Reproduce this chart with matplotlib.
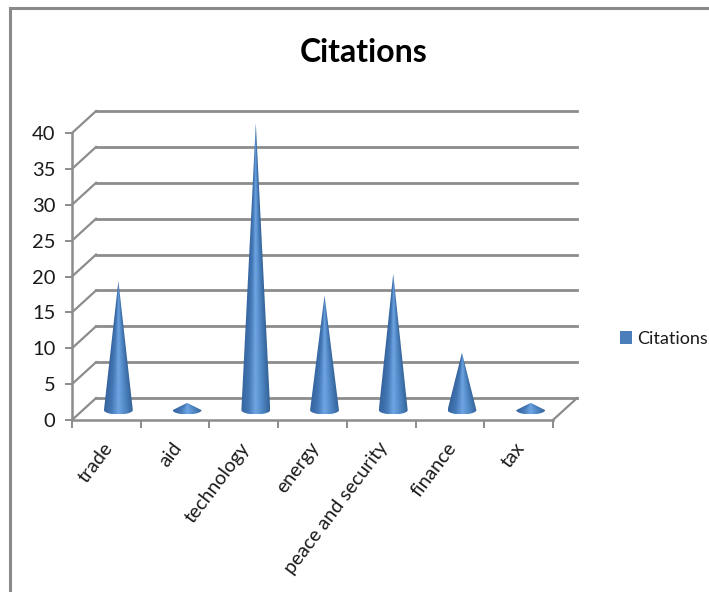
import matplotlib
matplotlib.use("Agg")
import matplotlib.pyplot as plt
import numpy as np
from matplotlib.colors import LinearSegmentedColormap
from matplotlib.lines import Line2D
from matplotlib.patches import Patch, Polygon
from matplotlib.transforms import ScaledTranslation

plt.rcParams["font.family"] = ["Lato", "DejaVu Sans"]

categories = ["trade", "aid", "technology", "energy", "peace and security", "finance", "tax"]
citations = [18, 1, 40, 16, 19, 8, 1]
y_ticks = [0, 5, 10, 15, 20, 25, 30, 35, 40]

W, H = 709, 592
GRID = "#8c8c8c"
DEPTH_X = 0.35  # fake 3d depth, in category units
DEPTH_Y = 3.06  # and in value units
CONE_W = 0.21
CONE_RY = 0.6

cone_cmap = LinearSegmentedColormap.from_list(
    "cone", ["#36659f", "#4377b5", "#6ea5e2", "#4f86c4", "#356499"]
)

fig = plt.figure(figsize=(W / 100, H / 100), dpi=100)
ax = fig.add_axes([72 / W, 1 - 420 / H, 481 / W, 287 / H])
ax.set_xlim(-0.5, 6.5)
ax.set_ylim(0, 40)
ax.patch.set_visible(False)

# outer frame, cut off by the crop on the right and bottom
fig.add_artist(Line2D([10 / W, 10 / W], [0, 1 - 8 / H], color="#8a8a8a", lw=2.2))
fig.add_artist(Line2D([10 / W, 1], [1 - 8 / H, 1 - 8 / H], color="#8a8a8a", lw=2.2))

# back wall gridlines and the side wall
x0, x1 = ax.get_xlim()
for t in y_ticks:
    ax.plot([x0 + DEPTH_X, x1 + DEPTH_X], [t + DEPTH_Y, t + DEPTH_Y], color=GRID, lw=2, clip_on=False, zorder=1)
    ax.plot([x0, x0 + DEPTH_X], [t, t + DEPTH_Y], color=GRID, lw=1.6, clip_on=False, zorder=1)
ax.plot([x1, x1 + DEPTH_X], [0, DEPTH_Y], color=GRID, lw=1.6, clip_on=False, zorder=1)

# cones: shading follows the cone, so rescale the gradient row by row
t_arc = np.linspace(np.pi, 2 * np.pi, 40)
for i, value in enumerate(citations):
    cx = i + DEPTH_X / 2
    base = DEPTH_Y / 2 - 0.15
    arc_x = cx + CONE_W * np.cos(t_arc)
    arc_y = base + CONE_RY * np.sin(t_arc)
    outline = np.vstack([[cx, base + value], np.column_stack([arc_x, arc_y])])
    poly = Polygon(outline, closed=True, transform=ax.transData, fc="none", ec="none")
    ax.add_patch(poly)

    ys = np.linspace(base + value, base - CONE_RY, 300)
    xs = np.linspace(-CONE_W, CONE_W, 80)
    half = np.clip((base + value - ys) / value, 0.02, 1) * CONE_W
    shade = np.clip(xs[None, :] / half[:, None] * 0.5 + 0.5, 0, 1)
    im = ax.imshow(
        shade,
        cmap=cone_cmap,
        extent=[cx - CONE_W, cx + CONE_W, base - CONE_RY, base + value],
        aspect="auto",
        zorder=3,
        interpolation="bilinear",
    )
    im.set_clip_path(poly)
    im.set_clip_box(fig.bbox)

ax.set_xlim(x0, x1)
ax.set_ylim(0, 40)

for side in ["top", "right"]:
    ax.spines[side].set_visible(False)
for side in ["left", "bottom"]:
    ax.spines[side].set_color(GRID)
    ax.spines[side].set_linewidth(1.8)

ax.set_yticks(y_ticks)
ax.set_xticks(np.arange(-0.5, 7.5), minor=False)
ax.set_xticklabels([])
ax.set_xticks(np.arange(len(categories)), labels=categories, minor=True)
ax.tick_params(axis="y", length=5, width=1.4, color=GRID, labelsize=14.5, pad=7, labelcolor="#1a1a1a")
ax.tick_params(axis="x", which="major", length=6, width=1.4, color=GRID)
ax.tick_params(axis="x", which="minor", length=0, pad=14, labelsize=14, labelcolor="#1a1a1a")
shift = ScaledTranslation(-4 / 100, 0, fig.dpi_scale_trans)
for label in ax.get_xticklabels(minor=True):
    label.set_rotation(53)
    label.set_ha("right")
    label.set_rotation_mode("anchor")
    label.set_transform(label.get_transform() + shift)

fig.text(364 / W, 1 - 53 / H, "Citations", ha="center", va="center", fontsize=23, fontweight="bold", color="black")

handle = Patch(facecolor="#4a7ebb", edgecolor="none", label="Citations")
fig.legend(
    handles=[handle],
    loc="center left",
    bbox_to_anchor=(604 / W, 1 - 339 / H),
    frameon=False,
    fontsize=13,
    handlelength=0.65,
    handleheight=0.75,
    handletextpad=0.3,
    labelcolor="#1a1a1a",
)

fig.savefig("out.png", dpi=100)
